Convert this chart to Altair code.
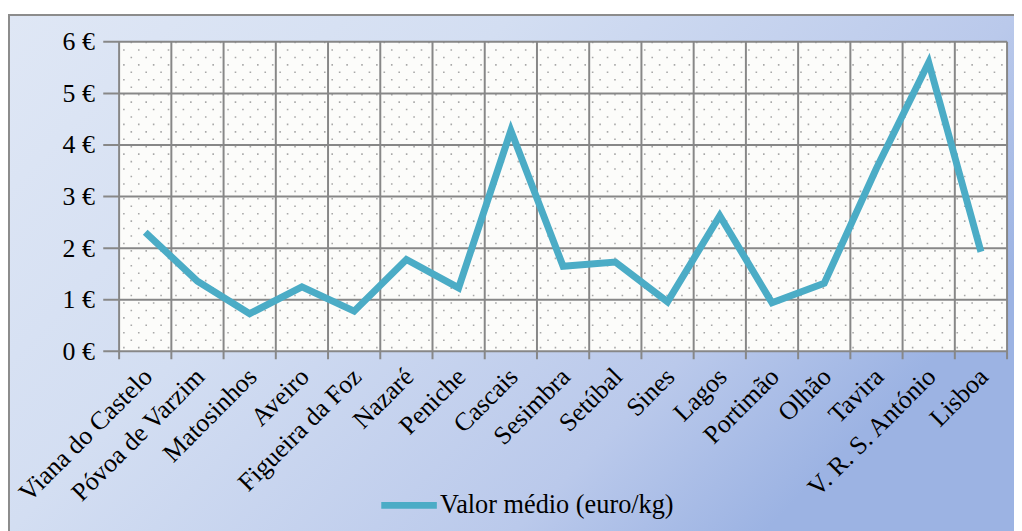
import altair as alt
import pandas as pd

categories = ["Viana do Castelo", "Póvoa de Varzim", "Matosinhos", "Aveiro",
              "Figueira da Foz", "Nazaré", "Peniche", "Cascais", "Sesimbra",
              "Setúbal", "Sines", "Lagos", "Portimão", "Olhão", "Tavira",
              "V. R. S. António", "Lisboa"]
values = [2.31, 1.36, 0.73, 1.25, 0.78, 1.78, 1.23, 4.28, 1.65, 1.73, 0.96,
          2.63, 0.94, 1.32, 3.55, 5.60, 1.93]
y_ticks = [0, 1, 2, 3, 4, 5, 6]
series_name = "Valor médio (euro/kg)"

W, H = 895, 312
PAD_L, PAD_T, PAD_R, PAD_B = 112, 32, 7, 179
FONT = "Liberation Serif"
GRID = "#878787"
LINE = "#4BACC6"

df = pd.DataFrame({"local": categories, "valor": values, "serie": series_name})
ticks_df = pd.DataFrame({"v": y_ticks})
cats_df = pd.DataFrame({"local": categories})
last_df = pd.DataFrame({"local": [categories[-1]]})

xscale = alt.Scale(type="band", domain=categories, paddingInner=0, paddingOuter=0)
yscale = alt.Scale(domain=[0, 6], nice=False, zero=True)

x_axis = alt.Axis(ticks=False, domain=False, grid=False, labelAngle=-45,
                  labelAlign="right", labelBaseline="middle", labelPadding=21,
                  labelFont=FONT, labelFontSize=26, labelColor="black",
                  labelLimit=400, labelOverlap=False, labelOffset=3,
                  title=None, zindex=2)
y_axis = alt.Axis(values=y_ticks, labelExpr="datum.value + ' €'", ticks=False,
                  domain=False, grid=False, labelPadding=25, labelFont=FONT,
                  labelFontSize=26, labelColor="black", title=None, zindex=2)

gradient = alt.Gradient(
    gradient="linear", x1=0, y1=0, x2=1, y2=0.5,
    stops=[alt.GradientStop(color="#dfe7f5", offset=0),
           alt.GradientStop(color="#d3def2", offset=0.4),
           alt.GradientStop(color="#bac9eb", offset=0.8),
           alt.GradientStop(color="#9cb3e3", offset=1)])

bg = alt.Chart(pd.DataFrame({"a": [0]})).mark_rect(
    fill=gradient, stroke="#8c8c8c", strokeWidth=2
).encode(x=alt.value(-111), x2=alt.value(W + PAD_R + 3),
         y=alt.value(-27), y2=alt.value(H + PAD_B + 3))

plotfill = alt.Chart(pd.DataFrame({"a": [0]})).mark_rect(fill="#fcfcfa").encode(
    x=alt.value(0), x2=alt.value(W), y=alt.value(0), y2=alt.value(H))

# dotted texture of the plot area (rows of small dashes)
def dots(parity, offset):
    return alt.Chart(alt.sequence(0, 42, as_="i")).transform_filter(
        f"datum.i % 2 == {parity}"
    ).transform_calculate(
        yy="(datum.i + 0.5) * 6 / 41.6"
    ).mark_rule(color="#a8a8a8", strokeWidth=1.6, strokeDash=[1.6, 13.4],
                strokeDashOffset=offset).encode(
        y=alt.Y("yy:Q", scale=yscale, axis=y_axis),
        x=alt.value(0), x2=alt.value(W))

dots_a = dots(0, -4)
dots_b = dots(1, -11.5)

ygrid = alt.Chart(ticks_df).mark_rule(color=GRID, strokeWidth=2).encode(
    y=alt.Y("v:Q", scale=yscale, axis=y_axis),
    x=alt.value(-16), x2=alt.value(W))

xgrid = alt.Chart(cats_df).mark_rule(color=GRID, strokeWidth=2).encode(
    x=alt.X("local:N", scale=xscale, bandPosition=0, axis=x_axis, sort=categories),
    y=alt.value(0), y2=alt.value(H + 8))

xedge = alt.Chart(last_df).mark_rule(color=GRID, strokeWidth=2).encode(
    x=alt.X("local:N", scale=xscale, bandPosition=1, axis=x_axis, sort=categories),
    y=alt.value(0), y2=alt.value(H + 8))

line = alt.Chart(df).mark_line(strokeWidth=7, strokeJoin="miter").encode(
    x=alt.X("local:N", scale=xscale, bandPosition=0.5, axis=x_axis, sort=categories),
    y=alt.Y("valor:Q", scale=yscale, axis=y_axis),
    color=alt.Color("serie:N", scale=alt.Scale(range=[LINE]),
                    legend=alt.Legend(title=None, orient="none", legendX=279,
                                      legendY=454, symbolType="M-4,0H4",
                                      symbolSize=196, symbolStrokeWidth=7,
                                      symbolStrokeColor=LINE,
                                      symbolFillColor="transparent",
                                      labelFont=FONT, labelFontSize=26.5,
                                      labelLimit=500,
                                      labelColor="black", labelOffset=18,
                                      zindex=2)))

chart = alt.layer(bg, plotfill, dots_a, dots_b, ygrid, xgrid, xedge, line).properties(
    width=W, height=H,
    autosize=alt.AutoSizeParams(type="none"),
    padding={"left": PAD_L, "top": PAD_T, "right": PAD_R, "bottom": PAD_B},
).configure_view(stroke=None)

chart.save("out.html", embed_options={"renderer": "svg", "actions": False})
